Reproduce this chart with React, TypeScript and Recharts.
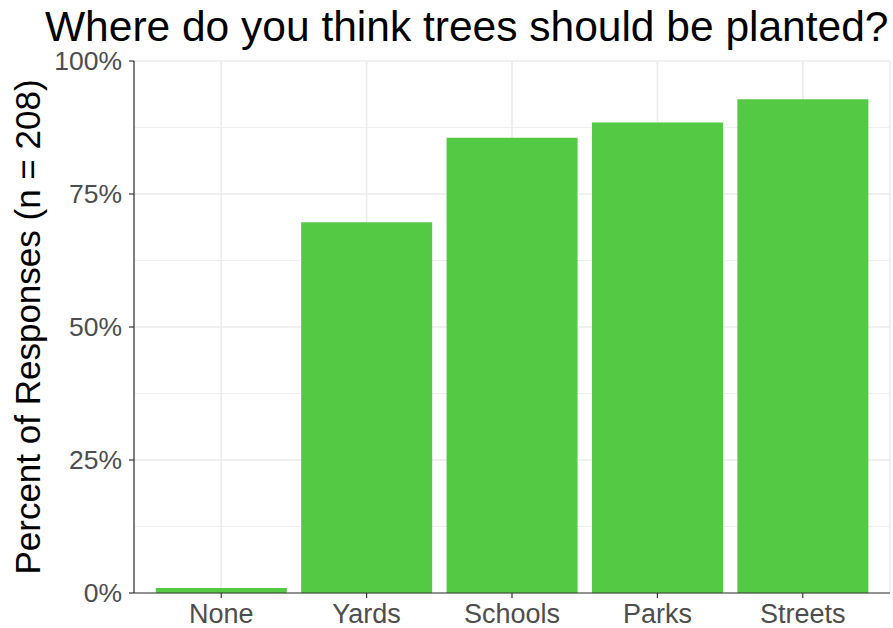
import React from "react";
import { BarChart, Bar, XAxis, YAxis, CartesianGrid } from "recharts";

const categories = ["None", "Yards", "Schools", "Parks", "Streets"];
const percents = [0.96, 69.71, 85.58, 88.46, 92.79];
const yTicks = [0, 25, 50, 75, 100];
const yMinor = [12.5, 37.5, 62.5, 87.5];

const data = categories.map((c, i) => ({ name: c, value: percents[i] }));

const FONT = "'Liberation Sans', Arial, Helvetica, sans-serif";

export default function App() {
  return (
    <div style={{ position: "absolute", left: 0, top: 0, width: 893, height: 628, background: "#fff", fontFamily: FONT }}>
      <div style={{ position: "absolute", left: 0, top: 0 }}>
        <BarChart
          width={893}
          height={628}
          data={data}
          margin={{ top: 61, right: 3, bottom: 0, left: 0 }}
          barCategoryGap="5%"
        >
          <CartesianGrid
            horizontalValues={yMinor}
            vertical={false}
            stroke="#ebebeb"
            strokeWidth={0.8}
          />
          <CartesianGrid
            horizontalValues={yTicks}
            stroke="#ebebeb"
            strokeWidth={1.6}
          />
          <XAxis
            dataKey="name"
            padding={{ left: 14.5, right: 14.5 }}
            height={35}
            tick={{ fill: "#4d4d4d", fontSize: 27, fontFamily: FONT, dy: 4 }}
            tickLine={{ stroke: "#333", strokeWidth: 1.2 }}
            tickSize={5}
            axisLine={{ stroke: "#333", strokeWidth: 1.2 }}
          />
          <XAxis
            xAxisId="top"
            orientation="top"
            dataKey="name"
            height={0}
            tick={false}
            tickLine={false}
            axisLine={{ stroke: "#333", strokeWidth: 1.2 }}
          />
          <YAxis
            domain={[0, 100]}
            ticks={yTicks}
            width={134}
            tickFormatter={(v: number) => `${v}%`}
            tick={{ fill: "#4d4d4d", fontSize: 26.5, fontFamily: FONT }}
            tickLine={{ stroke: "#333", strokeWidth: 1.2 }}
            tickSize={5}
            tickMargin={7}
            axisLine={{ stroke: "#333", strokeWidth: 1.2 }}
          />
          <YAxis
            yAxisId="right"
            orientation="right"
            domain={[0, 100]}
            width={0}
            tick={false}
            tickLine={false}
            axisLine={{ stroke: "#333", strokeWidth: 1.2 }}
          />
          <Bar dataKey="value" fill="#54C943" isAnimationActive={false} />
        </BarChart>
      </div>
      <svg
        width={893}
        height={628}
        style={{ position: "absolute", left: 0, top: 0, pointerEvents: "none" }}
      >
        <text
          x={45}
          y={41}
          fontSize={42.5}
          fontFamily={FONT}
          fill="#000"
        >
          Where do you think trees should be planted?
        </text>
        <text
          x={0}
          y={0}
          transform="translate(40, 327) rotate(-90)"
          textAnchor="middle"
          fontSize={35}
          fontFamily={FONT}
          fill="#000"
        >
          Percent of Responses (n = 208)
        </text>
      </svg>
    </div>
  );
}
